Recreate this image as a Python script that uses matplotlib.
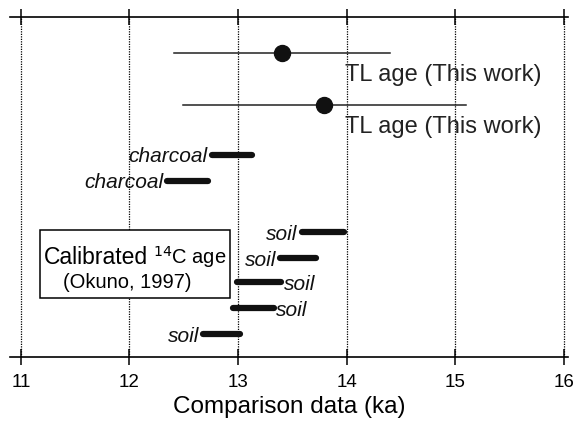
import matplotlib.pyplot as plt
from matplotlib.patches import Rectangle

# TL ages (ka) with error range
tl_age = [13.41, 13.79]
tl_lo = [12.41, 12.49]
tl_hi = [14.40, 15.10]
tl_row = [53, 105]

# calibrated 14C ranges (ka)
c14_lo = [12.76, 12.35, 13.59, 13.39, 12.99, 12.95, 12.68]
c14_hi = [13.13, 12.72, 13.98, 13.72, 13.40, 13.33, 13.02]
c14_row = [155, 181, 232, 258, 282, 308, 334]
c14_label = ["charcoal", "charcoal", "soil", "soil", "soil", "soil", "soil"]
c14_side = ["left", "left", "left", "left", "right", "right", "left"]

xticks = [11, 12, 13, 14, 15, 16]

plt.rcParams["font.family"] = ["Liberation Sans", "DejaVu Sans"]

fig = plt.figure(figsize=(5.74, 4.22), dpi=100)
ax = fig.add_axes([10 / 574, 1 - 357 / 422, 558 / 574, 340 / 422])
ax.set_xlim(10.9, 16.04)
ax.set_ylim(357, 17)

for x in xticks:
    ax.axvline(x, color="black", lw=0.9, ls=(0, (1, 1)), zorder=1)

for x, lo, hi, y in zip(tl_age, tl_lo, tl_hi, tl_row):
    ax.plot([lo, hi], [y, y], color="#222222", lw=1.1, zorder=2)
    ax.plot(x, y, "o", color="#111111", ms=11.5, zorder=3)
    ax.text(13.99, y + 22, "TL age (This work)", fontsize=17,
            ha="left", va="center", color="#222222")

for lo, hi, y, lab, side in zip(c14_lo, c14_hi, c14_row, c14_label, c14_side):
    ax.plot([lo, hi], [y, y], color="#111111", lw=4.5,
            solid_capstyle="round", zorder=3)
    if side == "left":
        ax.text(lo - 0.04, y + 2, lab, fontsize=15, style="italic",
                ha="right", va="center", color="#111111")
    else:
        ax.text(hi + 0.02, y + 2, lab, fontsize=15, style="italic",
                ha="left", va="center", color="#111111")

# legend-like box
ax.add_patch(Rectangle((11.176, 230), 1.75, 68, fc="white", ec="black",
                       lw=1.1, zorder=4))
ax.text(11.215, 257, "Calibrated", fontsize=16.5, ha="left", va="center", zorder=5)
ax.text(12.22, 257, "$^{14}$C age", fontsize=14.5, ha="left", va="center", zorder=5)
ax.text(11.98, 282, "(Okuno, 1997)", fontsize=14.5, ha="center", va="center",
        zorder=5)

ax.spines["left"].set_visible(False)
ax.spines["right"].set_visible(False)
ax.spines["top"].set_linewidth(1.2)
ax.spines["bottom"].set_linewidth(1.2)
ax.set_xticks(xticks)
ax.set_yticks([])
ax.tick_params(axis="x", direction="inout", length=11, width=1.1,
               top=True, labelsize=13.5, pad=7)
ax.set_xlabel("Comparison data (ka)", fontsize=17.5, labelpad=3)

fig.savefig("out.png", dpi=100)
